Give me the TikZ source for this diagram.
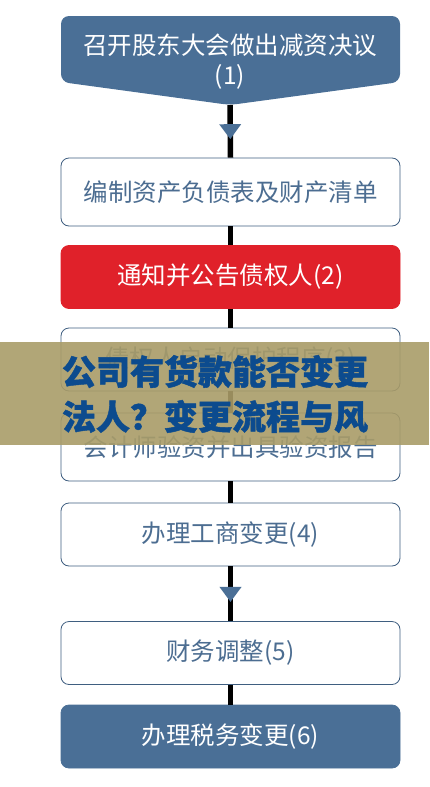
\documentclass[tikz,border=0pt]{standalone}
\usepackage{fontspec}
\setmainfont{Noto Sans CJK SC}[BoldFeatures={FakeBold=1.3}]
\usepackage{tikz}
\usetikzlibrary{arrows.meta,decorations.markings}
\definecolor{flowblue}{HTML}{4A6F96}
\definecolor{flowred}{HTML}{E0212A}
\definecolor{flowtext}{HTML}{4C6D91}
\definecolor{bannerbg}{HTML}{A99C68}
\definecolor{bannertext}{HTML}{0C4B8E}

\begin{document}
\begin{tikzpicture}[x=1pt, y=-1pt,
  stepbox/.style={draw=flowblue!85!black, line width=0.8pt, fill=white, rounded corners=8pt,
    minimum width=339pt, minimum height=63pt, text=flowtext, font=\fontsize{24.5}{30}\selectfont},
  filledbox/.style={stepbox, fill=#1, draw=#1, text=white},
  link/.style={line width=5.5pt, black},
  tiplink/.style={link, decoration={markings,
    mark=at position 0.65 with {\arrow[flowblue]{Triangle[width=21pt,length=15pt]}}},
    postaction={decorate}}]
\useasboundingbox (0,0) rectangle (429,787);
% first step, pointed at the bottom
\fill[flowblue, rounded corners=8pt] (230,105) -- (61,82) -- (61,16) -- (400,16) -- (400,82) -- cycle;
\node[text=white, align=center, font=\fontsize{24.5}{30}\selectfont] (s1) at (230,62) {召开股东大会做出减资决议\\(1)};
\coordinate (s1tip) at (230,105);
\node[stepbox, minimum height=68pt] (s2) at (230.5,192) {编制资产负债表及财产清单};
\node[filledbox=flowred] (s3) at (230.5,277) {通知并公告债权人(2)};
\node[stepbox] (s4) at (230.5,359.5) {债权人启动保护程序(3)};
\node[stepbox, minimum height=68pt] (s5) at (230.5,447) {会计师验资并出具验资报告};
\node[stepbox] (s6) at (230.5,534.5) {办理工商变更(4)};
\node[stepbox] (s7) at (230.5,653) {财务调整(5)};
\node[filledbox=flowblue] (s8) at (230.5,736.5) {办理税务变更(6)};
% connectors
\draw[tiplink] (s1tip) -- (s2.north);
\draw[link] (s2) -- (s3);
\draw[link] (s3) -- (s4);
\draw[link] (s4) -- (s5);
\draw[link] (s5) -- (s6);
\draw[tiplink] (s6) -- (s7);
\draw[link] (s7) -- (s8);
% banner over the chart
\fill[bannerbg, opacity=0.9] (0,342) rectangle (429,445);
\node[text=bannertext, align=left, font=\fontsize{34}{45}\selectfont\bfseries] (title) at (215,394) {公司有货款能否变更\\法人？变更流程与风};
\end{tikzpicture}
\end{document}
